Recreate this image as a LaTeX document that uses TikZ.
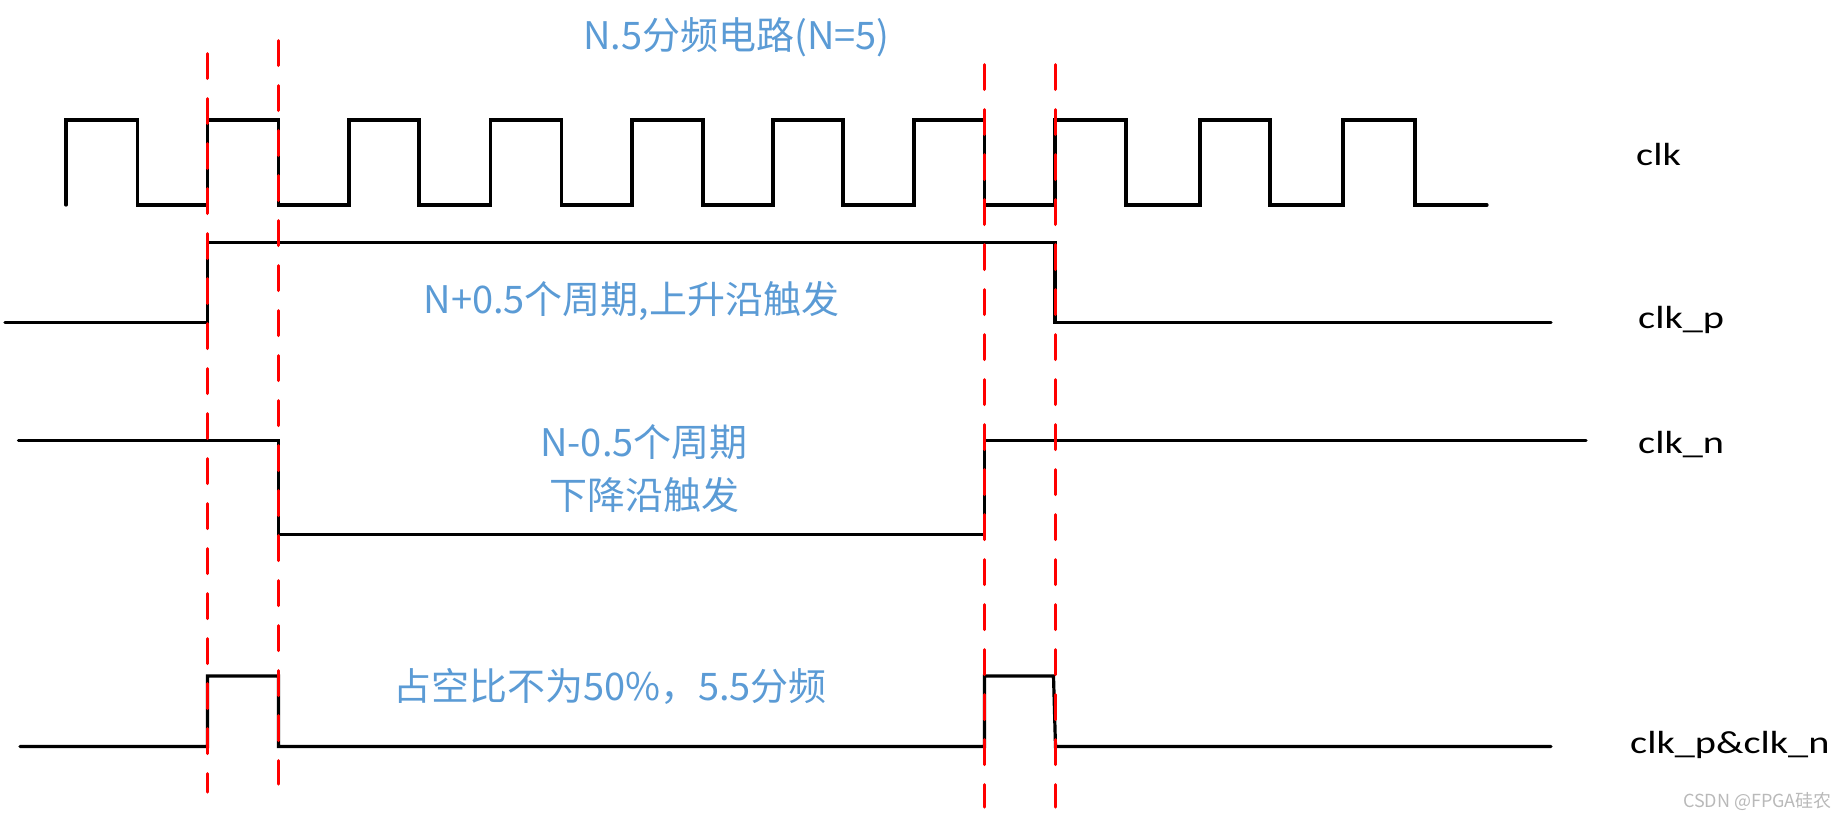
\documentclass[tikz,border=0pt]{standalone}
\usepackage{graphicx}
\usepackage{fontspec}
\setmainfont{Carlito}
\newfontfamily\cjkfont{Noto Sans CJK SC}
\definecolor{noteblue}{HTML}{5B9BD5}
\newcommand{\mysig}[1]{\scalebox{1.26}[1]{#1}}
\begin{document}
\begin{tikzpicture}[x=1pt,y=-1pt,
  wave/.style={line width=3.2pt, black, line join=miter, line cap=round},
  guide/.style={line width=3pt, red, dash pattern=on 25pt off 20pt, line cap=round},
  note/.style={text=noteblue, font=\cjkfont\fontsize{38}{46}\selectfont, inner sep=0pt, anchor=base},
  sig/.style={font=\fontsize{32}{38}\selectfont, inner sep=0pt, anchor=base west},
]
\useasboundingbox (0,0) rectangle (1848,820);

% clk
\draw[wave] (66,205) -- (66,120) -- (137.5,120) -- (137.5,205) -- (207.5,205) -- (207.5,120)
  -- (278.5,120) -- (278.5,205) -- (349,205) -- (349,120) -- (419,120) -- (419,205)
  -- (490.5,205) -- (490.5,120) -- (561.5,120) -- (561.5,205) -- (632,205) -- (632,120)
  -- (703,120) -- (703,205) -- (773,205) -- (773,120) -- (843,120) -- (843,205)
  -- (914,205) -- (914,120) -- (984.5,120) -- (984.5,205) -- (1055,205) -- (1055,120)
  -- (1126,120) -- (1126,205) -- (1200,205) -- (1200,120) -- (1270,120) -- (1270,205)
  -- (1343,205) -- (1343,120) -- (1415,120) -- (1415,205) -- (1487,205);

% clk_p
\draw[wave] (5,322.5) -- (207.5,322.5) -- (207.5,242.5) -- (1055,242.5) -- (1055,322.5) -- (1551,322.5);

% clk_n
\draw[wave] (18.5,440.5) -- (278.5,440.5) -- (278.5,534.5) -- (984.5,534.5) -- (984.5,440.5) -- (1586,440.5);

% clk_p & clk_n
\draw[wave] (20,746.5) -- (207.5,746.5) -- (207.5,676) -- (278.5,676) -- (278.5,746.5)
  -- (984.5,746.5) -- (984.5,676) -- (1053.5,676) -- (1055.5,746.5) -- (1551,746.5);

% guides
\draw[guide] (207.5,53.5) -- (207.5,792);
\draw[guide] (278.5,40.5) -- (278.5,784);
\draw[guide] (984.5,64.5) -- (984.5,807);
\draw[guide] (1055,64.5) -- (1055,807);

% notes
\node[note] (title) at (736.5,49) {N.5分频电路(N=5)};
\node[note] (pnote) at (631.5,313) {N+0.5个周期,上升沿触发};
\node[note] (nnote1) at (644,456) {N-0.5个周期};
\node[note] (nnote2) at (644,509) {下降沿触发};
\node[note] (onote) at (610,700) {占空比不为50\%，5.5分频};

% signal labels
\node[sig] (lclk) at (1636,165) {\mysig{clk}};
\node[sig] (lp) at (1638,328) {\mysig{clk\_p}};
\node[sig] (ln) at (1638,453) {\mysig{clk\_n}};
\node[sig] (lpn) at (1630,753) {\mysig{clk\_p\&clk\_n}};

% watermark
\node[anchor=base east, text=gray!55, font=\cjkfont\fontsize{18}{22}\selectfont, inner sep=0pt] (wm) at (1832,807) {CSDN @FPGA硅农};
\end{tikzpicture}
\end{document}
